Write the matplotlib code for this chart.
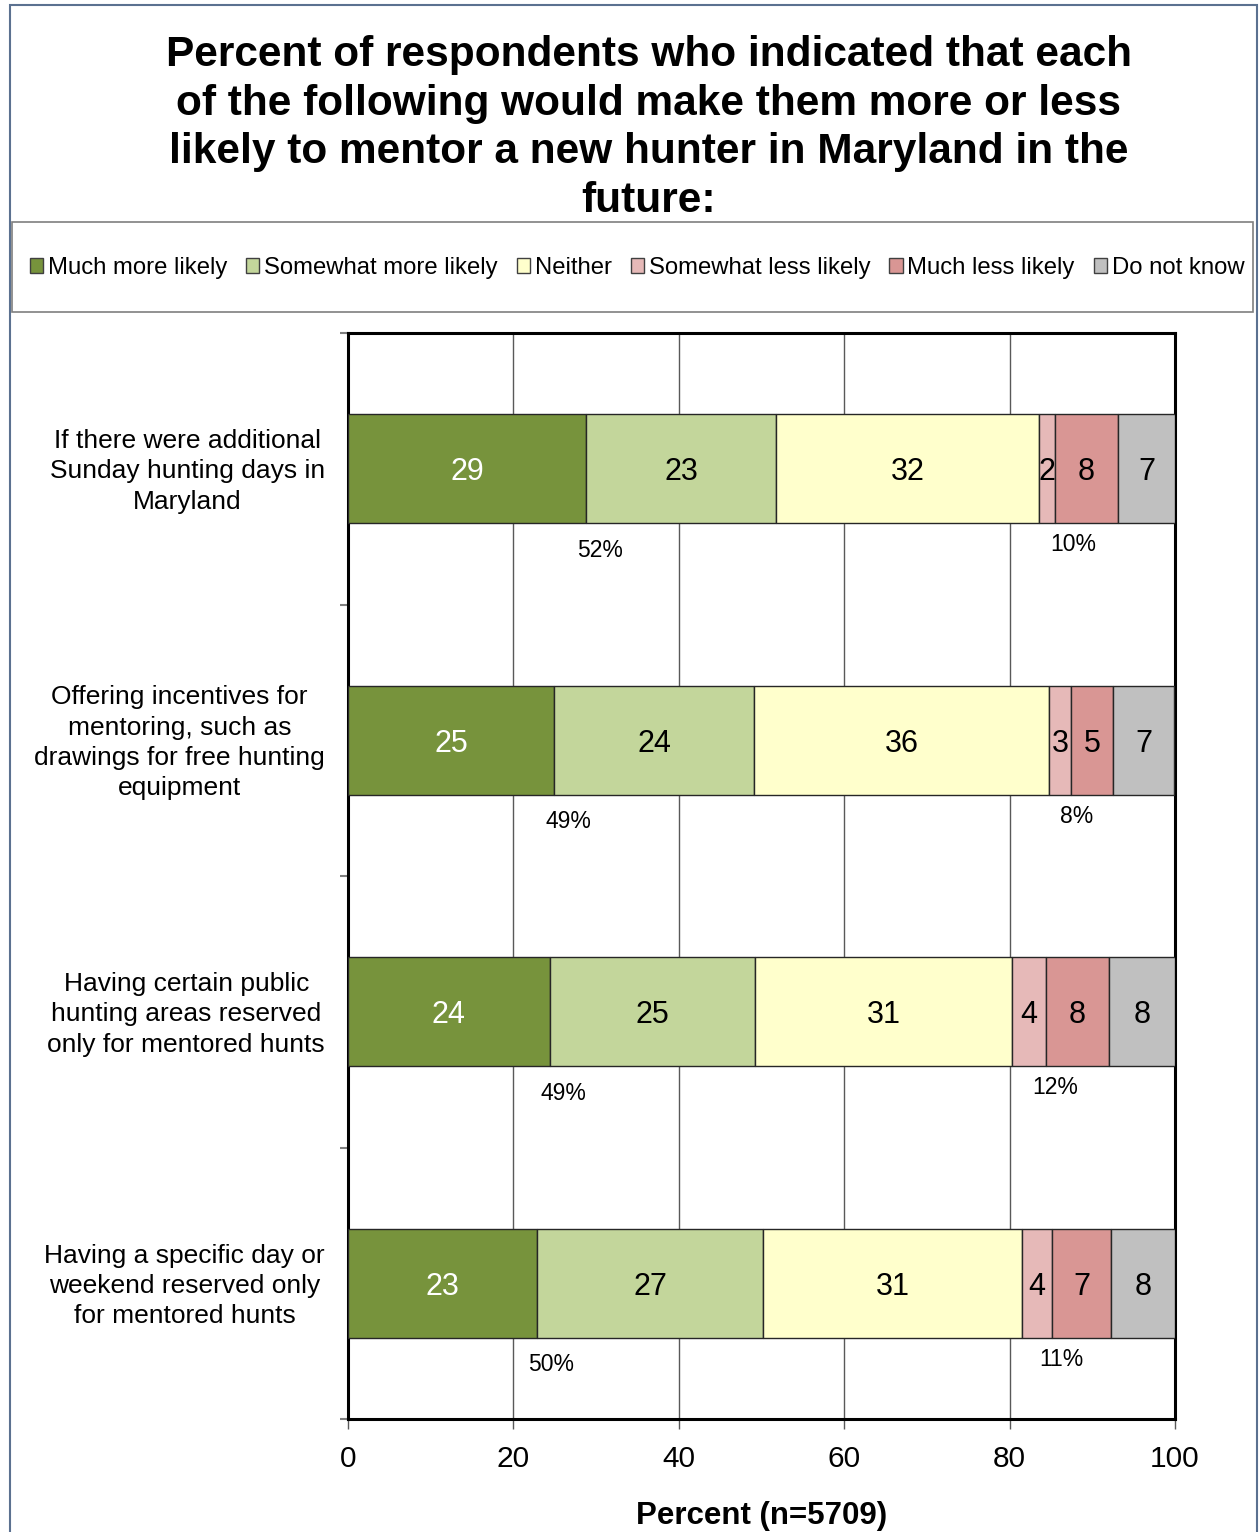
import numpy as np
import matplotlib
matplotlib.use("Agg")
import matplotlib.pyplot as plt
from matplotlib.patches import Patch, Rectangle

plt.rcParams['font.family'] = ['Liberation Sans', 'DejaVu Sans']

# data (percent of respondents)
questions = [
    "If there were additional\nSunday hunting days in\nMaryland",
    "Offering incentives for\nmentoring, such as\ndrawings for free hunting\nequipment",
    "Having certain public\nhunting areas reserved\nonly for mentored hunts",
    "Having a specific day or\nweekend reserved only\nfor mentored hunts",
]
responses = ["Much more likely", "Somewhat more likely", "Neither",
             "Somewhat less likely", "Much less likely", "Do not know"]
much_more = [28.8, 24.9, 24.4, 22.9]
somewhat_more = [23.0, 24.2, 24.8, 27.3]
neither = [31.8, 35.7, 31.1, 31.3]
somewhat_less = [1.9, 2.6, 4.1, 3.6]
much_less = [7.6, 5.1, 7.6, 7.2]
dont_know = [6.9, 7.4, 8.0, 7.7]

colors = ["#77933C", "#C3D69B", "#FFFFCC", "#E6B9B8", "#D99694", "#C0C0C0"]
text_colors = ["white", "black", "black", "black", "black", "black"]

series = [much_more, somewhat_more, neither, somewhat_less, much_less, dont_know]

fig = plt.figure(figsize=(12.59, 15.32), dpi=100)

# outer frame
fig.patches.append(Rectangle((10 / 1259, -0.01), 1247 / 1259, 1 - 5 / 1532 + 0.01,
                             transform=fig.transFigure, fill=False,
                             edgecolor="#5B7190", linewidth=1.5))

# title
fig.text(649 / 1259, 1 - 128 / 1532,
         "Percent of respondents who indicated that each\n"
         "of the following would make them more or less\n"
         "likely to mentor a new hunter in Maryland in the\n"
         "future:",
         ha="center", va="center", fontsize=30.5, fontweight="bold",
         linespacing=1.29)

# legend box
fig.patches.append(Rectangle((12 / 1259, 1 - 312 / 1532), 1241 / 1259, 90 / 1532,
                             transform=fig.transFigure, fill=False,
                             edgecolor="#7F7F7F", linewidth=1.2))

ax = fig.add_axes([348 / 1259, 1 - 1419 / 1532, 827 / 1259, 1086 / 1532])

y = np.arange(len(questions)) + 0.5
left = np.zeros(len(questions))
for vals, name, col, tcol in zip(series, responses, colors, text_colors):
    vals = np.array(vals)
    ax.barh(y, vals, left=left, height=0.4, color=col, edgecolor="#262626",
            linewidth=1.0, label=name, zorder=3)
    for yi, l, v in zip(y, left, vals):
        ax.text(l + v / 2, yi + 0.012, str(int(v + 0.5)), ha="center", va="center",
                fontsize=22, color=tcol, zorder=4)
    left = left + vals

# totals for more likely / less likely
for i in range(len(questions)):
    more_total = much_more[i] + somewhat_more[i]
    less_total = somewhat_less[i] + much_less[i]
    less_start = much_more[i] + somewhat_more[i] + neither[i]
    ax.text(much_more[i] + 1.7, i + 0.8, str(int(more_total + 0.5)) + "%",
            ha="center", va="center", fontsize=16.5, zorder=4)
    ax.text(less_start + less_total / 2 - 0.6, i + 0.78, str(int(less_total + 0.5)) + "%",
            ha="center", va="center", fontsize=16.5, zorder=4)

ax.set_xlim(0, 100)
ax.set_ylim(len(questions), 0)

# x axis
ax.set_xticks([0, 20, 40, 60, 80, 100])
ax.tick_params(axis="x", length=7, width=1, color="#595959", labelsize=21.5, pad=11.5)
ax.set_xlabel("Percent (n=5709)", fontsize=22.5, fontweight="bold", labelpad=20.5)
ax.xaxis.grid(True, color="#595959", linewidth=1.0, zorder=0)

# y axis: ticks at category boundaries, labels at centers
ax.set_yticks(np.arange(len(questions) + 1))
ax.set_yticklabels([])
ax.set_yticks(y - 0.011, minor=True)
ax.set_yticklabels(questions, minor=True, fontsize=19, multialignment="center",
                   linespacing=1.33)
ax.tick_params(axis="y", which="major", length=6, width=1.5, color="#7F7F7F")
ax.tick_params(axis="y", which="minor", length=0, pad=16.5)

for side in ["left", "right", "top", "bottom"]:
    ax.spines[side].set_linewidth(2.2)
    ax.spines[side].set_color("black")

# legend
handles = [Patch(facecolor=c, edgecolor="#404040", linewidth=1.0) for c in colors]
fig.legend(handles, responses, loc="center", ncol=6,
           bbox_to_anchor=(637 / 1259, 1 - 268 / 1532), frameon=False,
           fontsize=17.2, handlelength=0.55, handleheight=0.55,
           handletextpad=0.2, columnspacing=0.8, borderaxespad=0)

plt.savefig("out.png", dpi=100)
